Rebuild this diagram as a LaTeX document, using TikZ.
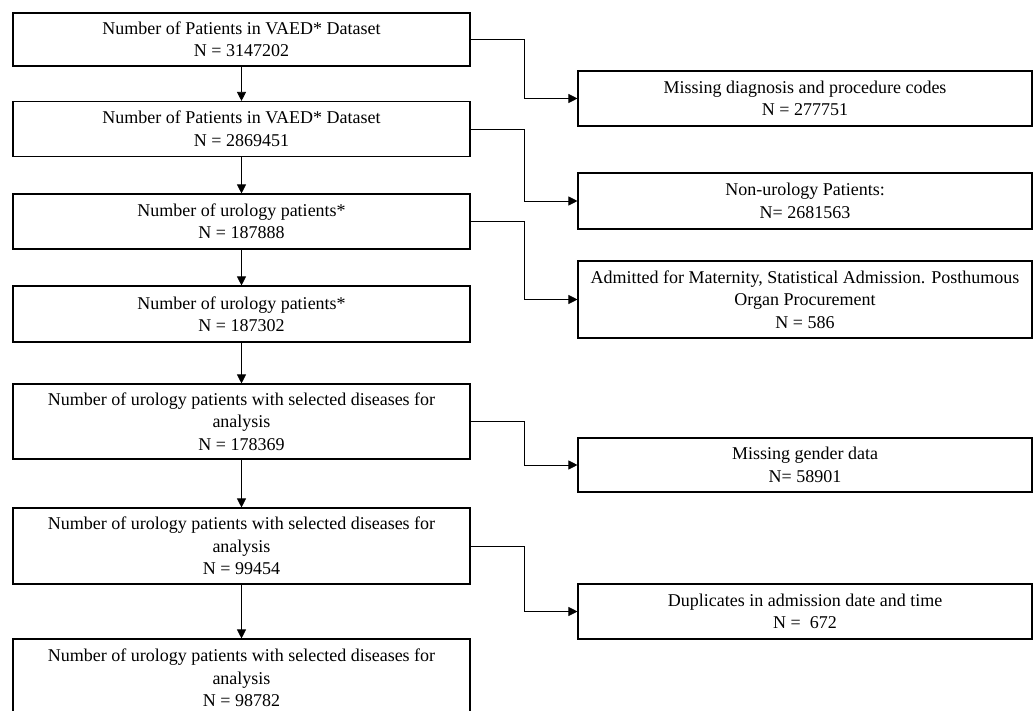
\documentclass[tikz,border=0pt]{standalone}
\usepackage{fontspec}
\setmainfont{Liberation Serif}
\usetikzlibrary{arrows.meta}

\begin{document}
\begin{tikzpicture}[
  x=1pt, y=-1pt,
  box/.style = {shape=rectangle, draw, line width=1.1pt, align=center,
    inner sep=0pt, font=\fontsize{18}{22.5}\selectfont},
  stage/.style = {box, minimum width=457pt},
  excl/.style = {box, minimum width=454pt},
  arr/.style = {-{Triangle[length=9pt,width=9pt]}, line width=0.8pt}
  ]
    \clip (0,0) rectangle (1035,711);
    % main column
    \node[stage, minimum height=53pt] (s1) at (241.5,39.5)
      {Number of Patients in VAED* Dataset\\N = 3147202};
    \node[stage, minimum height=55pt] (s2) at (241.5,129)
      {Number of Patients in VAED* Dataset\\N = 2869451};
    \node[stage, minimum height=55pt] (s3) at (241.5,221.5)
      {Number of urology patients*\\N = 187888};
    \node[stage, minimum height=56pt] (s4) at (241.5,314)
      {Number of urology patients*\\N = 187302};
    \node[stage, minimum height=75pt] (s5) at (241.5,421.5)
      {Number of urology patients with selected diseases for\\analysis\\N = 178369};
    \node[stage, minimum height=76pt] (s6) at (241.5,546)
      {Number of urology patients with selected diseases for\\analysis\\N = 99454};
    \node[stage, minimum height=78pt] (s7) at (241.5,678)
      {Number of urology patients with selected diseases for\\analysis\\N = 98782};
    % exclusions
    \node[excl, minimum height=55pt] (x1) at (805,98.5)
      {Missing diagnosis and procedure codes\\N = 277751};
    \node[excl, minimum height=56pt] (x2) at (805,201)
      {Non-urology Patients:\\N= 2681563};
    \node[excl, minimum height=77pt] (x3) at (805,299.5)
      {Admitted for Maternity, Statistical Admission. Posthumous\\Organ Procurement\\N = 586};
    \node[excl, minimum height=54pt] (x4) at (805,465)
      {Missing gender data\\N= 58901};
    \node[excl, minimum height=55pt] (x5) at (805,611.5)
      {Duplicates in admission date and time\\N = \ 672};

    \foreach \a/\b in {s1/s2, s2/s3, s3/s4, s4/s5, s5/s6, s6/s7}
      \draw[arr] (\a) -- (\b);
    \foreach \a/\b in {s1/x1, s2/x2, s3/x3, s5/x4, s6/x5}
      \draw[arr] (\a.east) -- ++(54,0) |- (\b.west);
\end{tikzpicture}
\end{document}
